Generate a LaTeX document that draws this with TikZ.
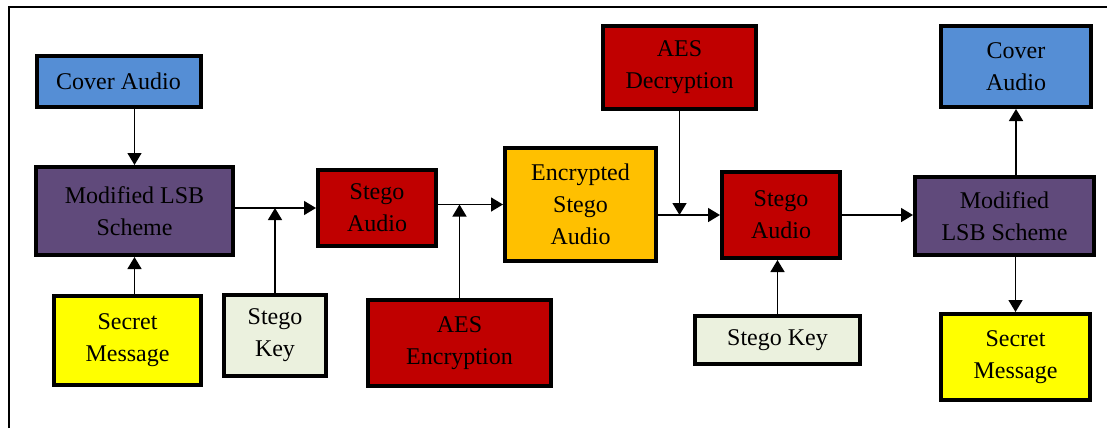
\documentclass[tikz,border=0pt]{standalone}
\usepackage{fontspec}
\setmainfont{Liberation Serif}
\usetikzlibrary{arrows.meta}

\definecolor{coverblue}{HTML}{558ED5}
\definecolor{lsbpurple}{HTML}{604A7B}
\definecolor{aesred}{HTML}{C00000}
\definecolor{encorange}{HTML}{FFC000}
\definecolor{msgyellow}{HTML}{FFFF00}
\definecolor{keygray}{HTML}{EBF1DE}

\tikzset{
  blk/.style n args={3}{draw, line width=2pt, fill={#1}, minimum width={#2}, minimum height={#3},
    align=center, inner sep=1pt, font=\fontsize{12}{16}\selectfont},
  flow/.style={line width=0.75pt, -{Triangle[length=6pt, width=7pt]}}
}

\begin{document}
\begin{tikzpicture}[x=0.5pt, y=-0.5pt]
\useasboundingbox (0,0) rectangle (1107,428);
\draw[line width=1pt] (9,428) -- (9,7) -- (1107,7);

% embedding side
\node[blk={coverblue}{82pt}{25.5pt}]   (cov1) at (118.5,81.5) {Cover Audio};
\node[blk={lsbpurple}{98.5pt}{44pt}]   (lsb1) at (134.5,211)  {Modified LSB\\Scheme};
\node[blk={msgyellow}{73.5pt}{44.5pt}] (sec1) at (127.5,340.5) {Secret\\Message};
\node[blk={keygray}{51pt}{40.5pt}]     (key1) at (275,335.5)  {Stego\\Key};
\node[blk={aesred}{59pt}{38pt}]        (sa1)  at (377,208)    {Stego\\Audio};
\node[blk={aesred}{91.5pt}{43pt}]      (aesE) at (459.5,343)  {AES\\Encryption};
\node[blk={encorange}{75.5pt}{56.5pt}] (enc)  at (580.5,204.5) {Encrypted\\Stego\\Audio};

% extraction side
\node[blk={aesred}{76.5pt}{41.5pt}]    (aesD) at (679.5,67.5) {AES\\Decryption};
\node[blk={aesred}{59pt}{43pt}]        (sa2)  at (781,215)    {Stego\\Audio};
\node[blk={keygray}{82.5pt}{24pt}]     (key2) at (777.5,340)  {Stego Key};
\node[blk={lsbpurple}{89.5pt}{39pt}]   (lsb2) at (1004.5,216) {Modified\\LSB Scheme};
\node[blk={coverblue}{75pt}{40.5pt}]   (cov2) at (1016,66.5)  {Cover\\Audio};
\node[blk={msgyellow}{74.5pt}{43pt}]   (sec2) at (1015.5,357) {Secret\\Message};

\draw[flow] (lsb1.north |- cov1.south) -- (lsb1.north);
\draw[flow] (lsb1.south |- sec1.north) -- (lsb1.south);
\draw[flow] (lsb1.east |- sa1) -- (sa1.west);
\draw[flow] (key1.north) -- (key1.north |- sa1.west);
\draw[flow] (sa1.east |- enc) -- (enc.west);
\draw[flow] (aesE.north) -- (aesE.north |- enc.west);
\draw[flow] (enc.east |- sa2) -- (sa2.west);
\draw[flow] (aesD.south) -- (aesD.south |- sa2.west);
\draw[flow] (key2.north) -- (key2.north |- sa2.south);
\draw[flow] (sa2.east) -- (sa2.east -| lsb2.west);
\draw[flow] (cov2.south |- lsb2.north) -- (cov2.south);
\draw[flow] (sec2.north |- lsb2.south) -- (sec2.north);
\end{tikzpicture}
\end{document}
